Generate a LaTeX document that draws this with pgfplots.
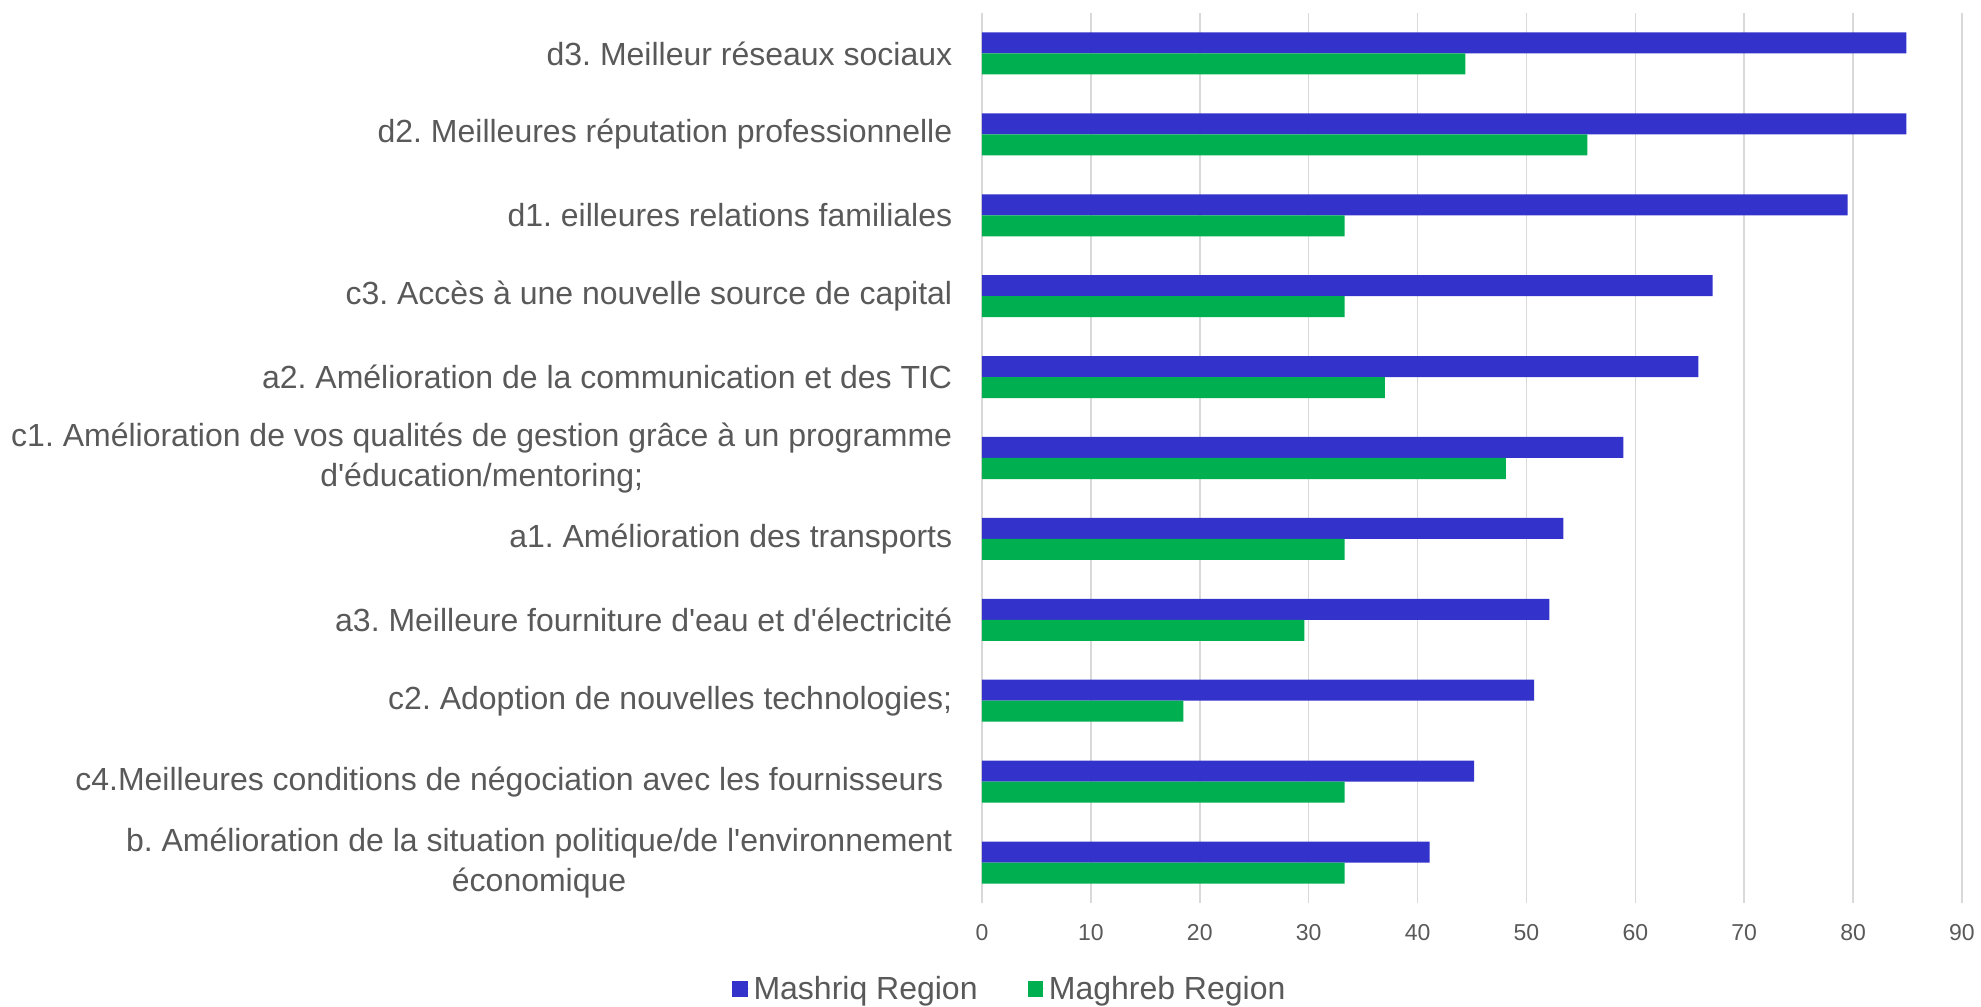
\documentclass[border=0pt]{standalone}
\usepackage{pgfplots}
\pgfplotsset{compat=1.18}
\usepackage{fontspec}
\setmainfont{Liberation Sans}[Ligatures=TeXOff]
\frenchspacing

\definecolor{mashriq}{HTML}{3333CC}
\definecolor{maghreb}{HTML}{00B050}
\definecolor{txt}{HTML}{595959}
\definecolor{gridc}{HTML}{D9D9D9}

% y = 0 (b) at the bottom, y = 10 (d3) at the top
\pgfplotstableread{
y  mashriq maghreb
0  41.1    33.3
1  45.2    33.3
2  50.7    18.5
3  52.1    29.6
4  53.4    33.3
5  58.9    48.1
6  65.8    37.0
7  67.1    33.3
8  79.5    33.3
9  84.9    55.6
10 84.9    44.4
}\datatable

\begin{document}
\begin{tikzpicture}
\begin{axis}[
  xbar,
  bar width=10.5pt,
  scale only axis,
  width=490pt,
  height=445pt,
  xmin=0, xmax=90,
  ymin=-0.5, ymax=10.5,
  xtick={0,10,...,90},
  ytick={0,...,10},
  yticklabels={
    {b. Amélioration de la situation politique/de l'environnement\\économique},
    {c4.Meilleures conditions de négociation avec les fournisseurs\kern4.4pt},
    {c2. Adoption de nouvelles technologies;},
    {a3. Meilleure fourniture d'eau et d'électricité},
    {a1. Amélioration des transports},
    {c1. Amélioration de vos qualités de gestion grâce à un programme\\d'éducation/mentoring;},
    {a2. Amélioration de la communication et des TIC},
    {c3. Accès à une nouvelle source de capital},
    {d1. eilleures relations familiales},
    {d2. Meilleures réputation professionnelle},
    {d3. Meilleur réseaux sociaux}},
  yticklabel style={font=\fontsize{16}{20}\selectfont, text=txt, align=center,
    inner sep=0pt, xshift=-14.7pt},
  xticklabel style={font=\fontsize{11.5}{13}\selectfont, text=txt,
    inner sep=0pt, yshift=-10.5pt},
  /pgf/number format/assume math mode=true,
  major tick length=0pt,
  axis line style={draw=none},
  xmajorgrids=true,
  ymajorgrids=false,
  major grid style={gridc, line width=0.75pt},
  legend style={at={(0.0295,-0.0966)}, anchor=center, draw=none,
    font=\fontsize{16}{19}\selectfont, text=txt,
    legend columns=2,
    /tikz/every even column/.append style={column sep=23pt}},
  legend image code/.code={\fill[#1] (0pt,-3.8pt) rectangle (7.6pt,3.8pt);
    \path (0pt,0pt) -- (8.6pt,0pt);},
]
\addplot[fill=mashriq, draw=none, bar shift=5.25pt] table[x=mashriq, y=y] {\datatable};
\addplot[fill=maghreb, draw=none, bar shift=-5.25pt] table[x=maghreb, y=y] {\datatable};
\legend{Mashriq Region, Maghreb Region}
\end{axis}
\pgfresetboundingbox
\path ([shift={(-491pt,-51.5pt)}]current axis.south west)
  rectangle ([shift={(9.5pt,6.5pt)}]current axis.north east);
\end{tikzpicture}
\end{document}
